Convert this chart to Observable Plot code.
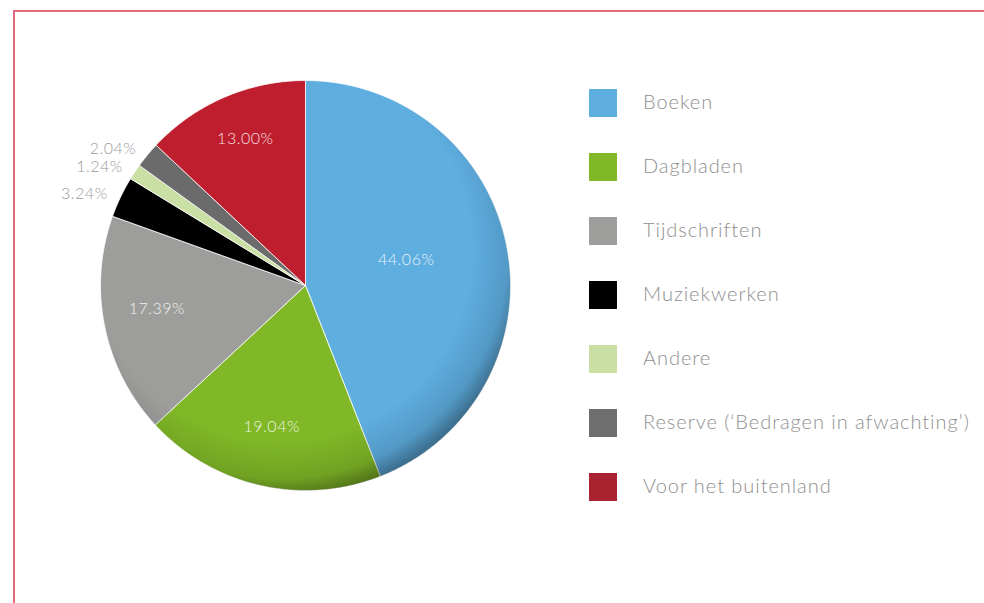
<!DOCTYPE html>
<html>
<head>
<meta charset="utf-8">
<script src="https://cdn.jsdelivr.net/npm/d3@7"></script>
<script src="https://cdn.jsdelivr.net/npm/@observablehq/plot@0.6"></script>
<style>
  html, body { margin: 0; padding: 0; background: #fff; }
  body { width: 984px; height: 603px; position: relative; overflow: hidden; font-family: Lato, "Open Sans", sans-serif; }
  #frame { position: absolute; left: 13px; top: 10px; width: 990px; height: 620px; border-top: 2px solid #e2697a; border-left: 2px solid #e2697a; box-sizing: border-box; }
  #chart { position: absolute; left: 0; top: 0; }
  #legend { position: absolute; left: 589px; top: 89px; }
  .row { position: absolute; left: 0; height: 28px; white-space: nowrap; }
  .sw { position: absolute; left: 0; top: 0; width: 28px; height: 28px; }
  .lb { position: absolute; left: 54px; top: -2px; font-size: 20px; font-weight: 300; color: #8f8f8f; line-height: 28px; letter-spacing: 0.95px; }
</style>
</head>
<body>
<div id="frame"></div>
<div id="chart"></div>
<div id="legend"></div>
<script>
const categories = ["Boeken", "Dagbladen", "Tijdschriften", "Muziekwerken", "Andere", "Reserve (‘Bedragen in afwachting’)", "Voor het buitenland"];
const values = [44.06, 19.04, 17.39, 3.24, 1.24, 2.04, 13.00];
const labels = ["44.06%", "19.04%", "17.39%", "3.24%", "1.24%", "2.04%", "13.00%"];
const palette = ["#5eaee0", "#80b827", "#9d9d9b", "#000000", "#c9dfa3", "#6b6b6b", "#be1e2d"];
const legendPalette = ["#5eaee0", "#80b827", "#9d9d9b", "#000000", "#c9dfa3", "#6e6e6e", "#a8222f"];

const arcs = d3.pie().sort(null).value(d => d)(values);

// polygon points for each slice (center + arc), in unit-circle coordinates
const pts = [];
arcs.forEach((a, i) => {
  const cat = categories[i];
  pts.push({cat, x: 0, y: 0});
  const n = Math.max(2, Math.ceil((a.endAngle - a.startAngle) / (Math.PI / 360)));
  for (let k = 0; k <= n; k++) {
    const t = a.startAngle + (a.endAngle - a.startAngle) * k / n;
    pts.push({cat, x: Math.sin(t), y: Math.cos(t)});
  }
  pts.push({cat, x: 0, y: 0});
});

const labelData = arcs.map((a, i) => {
  const mid = (a.startAngle + a.endAngle) / 2;
  const small = values[i] < 5;
  const rf = small ? 1.07 : (values[i] > 40 ? 0.5 : 0.74);
  return {text: labels[i], x: rf * Math.sin(mid), y: rf * Math.cos(mid), small};
});

const plot = Plot.plot({
  width: 984,
  height: 603,
  margin: 0,
  x: {domain: [-1, 1], range: [100, 510], axis: null},
  y: {domain: [-1, 1], range: [490, 80], axis: null},
  color: {domain: categories, range: palette},
  style: {background: "transparent", fontFamily: "Lato, 'Open Sans', sans-serif"},
  marks: [
    Plot.line(pts, {x: "x", y: "y", z: "cat", fill: "cat", stroke: "#ffffff", strokeWidth: 0.8, curve: "linear"}),
    Plot.line(pts, {x: "x", y: "y", z: "cat", fill: "url(#shade)", stroke: "none", curve: "linear"}),
    Plot.text(labelData.filter(d => !d.small), {x: "x", y: "y", text: "text", fill: "#ffffff", fillOpacity: 0.88, fontSize: 16, fontWeight: 300, dy: -7}),
    Plot.text(labelData.filter(d => d.small), {x: "x", y: "y", text: "text", fill: "#9a9a9a", fontSize: 16, fontWeight: 300, textAnchor: "end", dy: 3})
  ]
});

// radial shading gradient for 3D look
const sx = plot.scale("x"), sy = plot.scale("y");
const cx = sx.apply(0), cy = sy.apply(0), R = sx.apply(1) - cx;
const svg = d3.select(plot);
svg.selectAll("text").style("letter-spacing", "0.5px");
const defs = svg.insert("defs", ":first-child");
const g = defs.append("radialGradient").attr("id", "shade").attr("gradientUnits", "userSpaceOnUse")
  .attr("cx", cx - 25).attr("cy", cy - 35).attr("r", R + 40);
g.append("stop").attr("offset", "0.78").attr("stop-color", "#000").attr("stop-opacity", 0);
g.append("stop").attr("offset", "0.93").attr("stop-color", "#000").attr("stop-opacity", 0.12);
g.append("stop").attr("offset", "1").attr("stop-color", "#000").attr("stop-opacity", 0.35);

document.getElementById("chart").appendChild(plot);

// legend
const legend = document.getElementById("legend");
categories.forEach((c, i) => {
  const row = document.createElement("div");
  row.className = "row";
  row.style.top = (i * 64) + "px";
  row.innerHTML = `<div class="sw" style="background:${legendPalette[i]}"></div><div class="lb">${c}</div>`;
  legend.appendChild(row);
});
</script>
</body>
</html>
